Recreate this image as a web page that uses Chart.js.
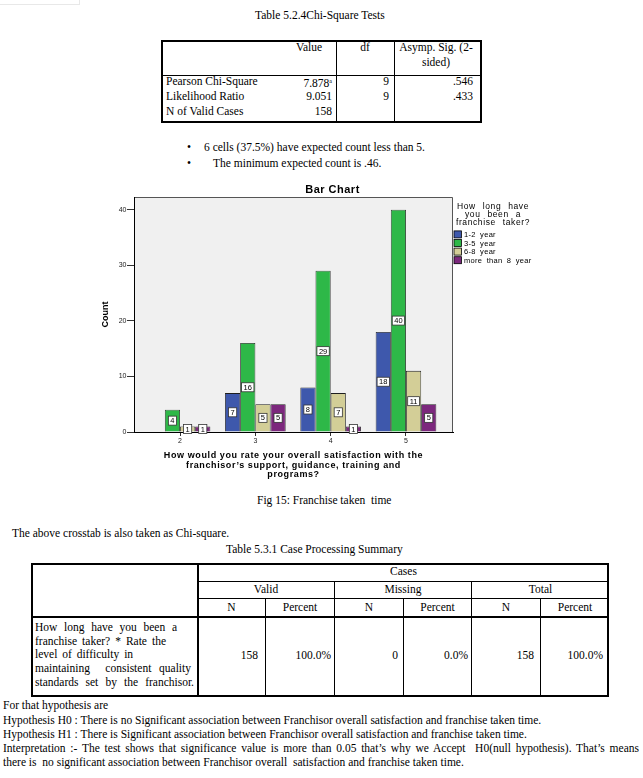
<!DOCTYPE html>
<html>
<head>
<meta charset="utf-8">
<title>Chi-Square Tests - Bar Chart</title>
<script src="https://cdn.jsdelivr.net/npm/chart.js@4.4.1/dist/chart.umd.min.js"></script>
<style>
  html, body { margin: 0; padding: 0; background: #fff; }
  body { position: relative; width: 643px; height: 778px; overflow: hidden;
         font-family: "Liberation Serif", "Times New Roman", serif; font-size: 11.5px; color: #000; }
  .t { position: absolute; white-space: nowrap; line-height: 14px; }
  .c { text-align: center; }
  .r { text-align: right; }
  .j { white-space: normal; text-align: justify; text-align-last: justify; }
  .box { position: absolute; box-sizing: border-box; border: 2px solid #000; }
  .h { position: absolute; height: 1px; background: #000; }
  .v { position: absolute; width: 1px; background: #000; }
  #chartWrap { position: absolute; left: 100px; top: 180px; width: 465px; height: 310px; }
</style>
</head>
<body>

<!-- bit of the previous page -->
<div style="position:absolute;left:0;top:4px;width:80px;height:1px;background:#e8e8e8"></div>
<div style="position:absolute;left:79px;top:0;width:1px;height:5px;background:#e8e8e8"></div>

<!-- Table 5.2.4 -->
<div class="t" style="left:255px;top:8px">Table 5.2.4Chi-Square Tests</div>
<div class="box" style="left:161px;top:40px;width:321px;height:83px"></div>
<div class="h" style="left:161px;top:75px;width:321px"></div>
<div class="v" style="left:336px;top:40px;height:83px"></div>
<div class="v" style="left:394px;top:40px;height:83px"></div>
<div class="t c" style="left:282px;width:54px;top:40px">Value</div>
<div class="t c" style="left:336px;width:58px;top:40px">df</div>
<div class="t c" style="left:394px;width:84px;top:40px">Asymp. Sig. (2-</div>
<div class="t c" style="left:394px;width:84px;top:55px">sided)</div>

<div class="t" style="left:166px;top:74px">Pearson Chi-Square</div>
<div class="t" style="left:166px;top:89px">Likelihood Ratio</div>
<div class="t" style="left:166px;top:104px">N of Valid Cases</div>
<div class="t r" style="left:270px;width:62px;top:74px">7.878<span style="font-size:6px;vertical-align:4px">a</span></div>
<div class="t r" style="left:270px;width:62px;top:89px">9.051</div>
<div class="t r" style="left:270px;width:62px;top:104px">158</div>
<div class="t r" style="left:340px;width:49px;top:74px">9</div>
<div class="t r" style="left:340px;width:49px;top:89px">9</div>
<div class="t r" style="left:400px;width:73px;top:74px">.546</div>
<div class="t r" style="left:400px;width:73px;top:89px">.433</div>

<div class="t" style="left:187px;top:140px">&bull;</div>
<div class="t" style="left:204px;top:140px">6 cells (37.5%) have expected count less than 5.</div>
<div class="t" style="left:187px;top:156px">&bull;</div>
<div class="t" style="left:213px;top:156px">The minimum expected count is .46.</div>

<!-- chart -->
<div id="chartWrap"><canvas id="barChart" width="465" height="310"></canvas></div>

<div class="t" style="left:257px;top:493px">Fig 15: Franchise taken&nbsp; time</div>

<div class="t" style="left:12px;top:526px">The above crosstab is also taken as Chi-square.</div>
<div class="t" style="left:226px;top:542px">Table 5.3.1 Case Processing Summary</div>

<!-- Table 5.3.1 -->
<div class="box" style="left:31px;top:563px;width:578px;height:134px"></div>
<div class="v" style="left:197px;top:563px;height:134px;width:2px"></div>
<div class="h" style="left:198px;top:581px;width:411px"></div>
<div class="h" style="left:198px;top:598px;width:411px"></div>
<div class="h" style="left:31px;top:616px;width:578px;height:2px"></div>
<div class="v" style="left:334px;top:581px;height:116px"></div>
<div class="v" style="left:471px;top:581px;height:116px"></div>
<div class="v" style="left:265px;top:598px;height:99px"></div>
<div class="v" style="left:403px;top:598px;height:99px"></div>
<div class="v" style="left:540px;top:598px;height:99px"></div>

<div class="t c" style="left:198px;width:411px;top:564px">Cases</div>
<div class="t c" style="left:198px;width:136px;top:582px">Valid</div>
<div class="t c" style="left:335px;width:136px;top:582px">Missing</div>
<div class="t c" style="left:472px;width:137px;top:582px">Total</div>
<div class="t c" style="left:198px;width:67px;top:600px">N</div>
<div class="t c" style="left:266px;width:68px;top:600px">Percent</div>
<div class="t c" style="left:335px;width:68px;top:600px">N</div>
<div class="t c" style="left:404px;width:67px;top:600px">Percent</div>
<div class="t c" style="left:472px;width:68px;top:600px">N</div>
<div class="t c" style="left:541px;width:68px;top:600px">Percent</div>

<div class="t j" style="left:35px;width:142px;top:620px">How long have you been a</div>
<div class="t j" style="left:35px;width:131px;top:633.5px">franchise taker? * Rate the</div>
<div class="t" style="left:35px;top:647px;word-spacing:2px">level of difficulty in</div>
<div class="t j" style="left:35px;width:156px;top:661px">maintaining &nbsp;consistent quality</div>
<div class="t j" style="left:35px;width:159px;top:675px">standards set by the franchisor.</div>

<div class="t r" style="left:200px;width:58px;top:648px">158</div>
<div class="t r" style="left:268px;width:63px;top:648px">100.0%</div>
<div class="t r" style="left:340px;width:58px;top:648px">0</div>
<div class="t r" style="left:405px;width:63px;top:648px">0.0%</div>
<div class="t r" style="left:476px;width:58px;top:648px">158</div>
<div class="t r" style="left:540px;width:63px;top:648px">100.0%</div>

<!-- hypotheses -->
<div class="t" style="left:3px;top:698px">For that hypothesis are</div>
<div class="t" style="left:3px;top:712.5px">Hypothesis H0 : There is no Significant association between Franchisor overall satisfaction and franchise taken time.</div>
<div class="t" style="left:3px;top:726.5px">Hypothesis H1 : There is Significant association between Franchisor overall satisfaction and franchise taken time.</div>
<div class="t j" style="left:3px;top:740.5px;width:636px">Interpretation :- The test shows that significance value is more than 0.05 that’s why we Accept &nbsp;H0(null hypothesis). That’s means</div>
<div class="t" style="left:3px;top:754.5px">there is &nbsp;no significant association between Franchisor overall &nbsp;satisfaction and franchise taken time.</div>

<script>
// ratings on the x axis and counts per franchise period
const categories = [2, 3, 4, 5];
const seriesNames = ['1-2 year', '3-5 year', '6-8 year', 'more than 8 year'];
const oneToTwo = [0, 7, 8, 18];
const threeToFive = [4, 16, 29, 40];
const sixToEight = [1, 5, 7, 11];
const moreThanEight = [1, 5, 1, 5];
const countTicks = [0, 10, 20, 30, 40];

const chartTitle = 'Bar Chart';
const xTitle = ['How would you rate your overall satisfaction with the',
                'franchisor’s support, guidance, training and',
                'programs?'];
const yTitle = 'Count';
const legendTitle = ['How long have', 'you been a', 'franchise taker?'];

const FONT = '"Liberation Sans", Arial, sans-serif';
const seriesColors = ['#3e58ac', '#2eb848', '#d3ce97', '#7c287d'];

// background, frame, value boxes, titles and legend in SPSS style
const spssExtras = {
    id: 'spssExtras',
    beforeDraw(chart) {
        const { ctx, chartArea: a } = chart;
        ctx.save();
        ctx.fillStyle = '#f0f0f0';
        ctx.fillRect(a.left, a.top, a.right - a.left, a.bottom - a.top);
        ctx.strokeStyle = '#555';
        ctx.lineWidth = 1;
        ctx.beginPath();
        ctx.moveTo(a.left, a.top + 0.5);
        ctx.lineTo(a.right - 0.5, a.top + 0.5);
        ctx.lineTo(a.right - 0.5, a.bottom);
        ctx.stroke();
        ctx.restore();
    },
    afterDatasetsDraw(chart) {
        const ctx = chart.ctx;
        ctx.save();
        ctx.font = '7.5px ' + FONT;
        ctx.textAlign = 'center';
        ctx.textBaseline = 'middle';
        chart.data.datasets.forEach((ds, di) => {
            chart.getDatasetMeta(di).data.forEach((bar, i) => {
                const v = ds.data[i];
                if (!v) return;
                const txt = String(v);
                const w = ctx.measureText(txt).width + 4;
                const h = 9;
                const cy = (bar.y + bar.base) / 2;
                ctx.fillStyle = '#fff';
                ctx.fillRect(bar.x - w / 2, cy - h / 2, w, h);
                ctx.strokeStyle = '#333';
                ctx.lineWidth = 0.8;
                ctx.strokeRect(bar.x - w / 2, cy - h / 2, w, h);
                ctx.fillStyle = '#000';
                ctx.fillText(txt, bar.x, cy + 0.5);
            });
        });
        ctx.restore();
    },
    afterDraw(chart) {
        const { ctx, chartArea: a } = chart;
        const midX = (a.left + a.right) / 2;
        ctx.save();
        ctx.fillStyle = '#000';
        ctx.textAlign = 'center';
        ctx.textBaseline = 'middle';

        ctx.font = 'bold 11px ' + FONT;
        ctx.letterSpacing = '0.5px';
        ctx.fillText(chartTitle, chart.width / 2, 9.5);

        ctx.font = 'bold 9px ' + FONT;
        ctx.letterSpacing = '0.6px';
        xTitle.forEach((line, i) => ctx.fillText(line, midX, a.bottom + 24 + i * 9.4));

        ctx.save();
        ctx.translate(6, (a.top + a.bottom) / 2);
        ctx.rotate(-Math.PI / 2);
        ctx.letterSpacing = '0px';
        ctx.fillText(yTitle, 0, 0);
        ctx.restore();

        // legend
        const lx = a.right + 1;
        ctx.font = '8.5px ' + FONT;
        ctx.letterSpacing = '0.6px';
        ctx.wordSpacing = '4px';
        legendTitle.forEach((line, i) => ctx.fillText(line, a.right + 40, a.top + 9.2 + i * 8.2));

        ctx.textAlign = 'left';
        ctx.font = '7.5px ' + FONT;
        ctx.letterSpacing = '0.3px';
        ctx.wordSpacing = '2px';
        chart.data.datasets.forEach((ds, i) => {
            const y = a.top + 37.4 + i * 8.6;
            ctx.fillStyle = ds.backgroundColor;
            ctx.fillRect(lx, y - 3.5, 7.4, 7);
            ctx.strokeStyle = '#000';
            ctx.lineWidth = 0.8;
            ctx.strokeRect(lx, y - 3.5, 7.4, 7);
            ctx.fillStyle = '#000';
            ctx.fillText(ds.label, lx + 10, y + 0.5);
        });
        ctx.restore();
    }
};

function makeSet(i, values) {
    return {
        label: seriesNames[i],
        data: values,
        backgroundColor: seriesColors[i],
        borderColor: '#1e1e1e',
        borderWidth: c => (c.raw ? 0.8 : 0)
    };
}

new Chart(document.getElementById('barChart').getContext('2d'), {
    type: 'bar',
    data: {
        labels: categories,
        datasets: [
            makeSet(0, oneToTwo),
            makeSet(1, threeToFive),
            makeSet(2, sixToEight),
            makeSet(3, moreThanEight)
        ]
    },
    plugins: [spssExtras],
    options: {
        responsive: false,
        animation: false,
        categoryPercentage: 0.805,
        barPercentage: 1,
        layout: { padding: { left: 0, top: 17, right: 112, bottom: 0 } },
        plugins: {
            legend: { display: false },
            title: { display: false },
            tooltip: { enabled: false }
        },
        scales: {
            x: {
                type: 'linear',
                offset: false,
                min: 1.389,
                max: 5.624,
                afterBuildTicks: s => { s.ticks = categories.map(v => ({ value: v })); },
                afterFit: s => { s.height = 58; },
                grid: { offset: false, drawOnChartArea: false, drawTicks: true, tickLength: 4, tickColor: '#333', tickWidth: 1 },
                border: { display: true, color: '#000', width: 1 },
                ticks: { font: { family: FONT, size: 7 }, color: '#222', padding: 1, autoSkip: false, maxRotation: 0 }
            },
            y: {
                min: 0,
                max: 42.28,
                afterBuildTicks: s => { s.ticks = countTicks.map(v => ({ value: v })); },
                afterFit: s => { s.width = 34; },
                grid: { drawOnChartArea: false, drawTicks: true, tickLength: 7, tickColor: '#333', tickWidth: 1 },
                border: { display: true, color: '#000', width: 1 },
                ticks: { font: { family: FONT, size: 7 }, color: '#222', padding: 0.5 }
            }
        }
    }
});
</script>
</body>
</html>
